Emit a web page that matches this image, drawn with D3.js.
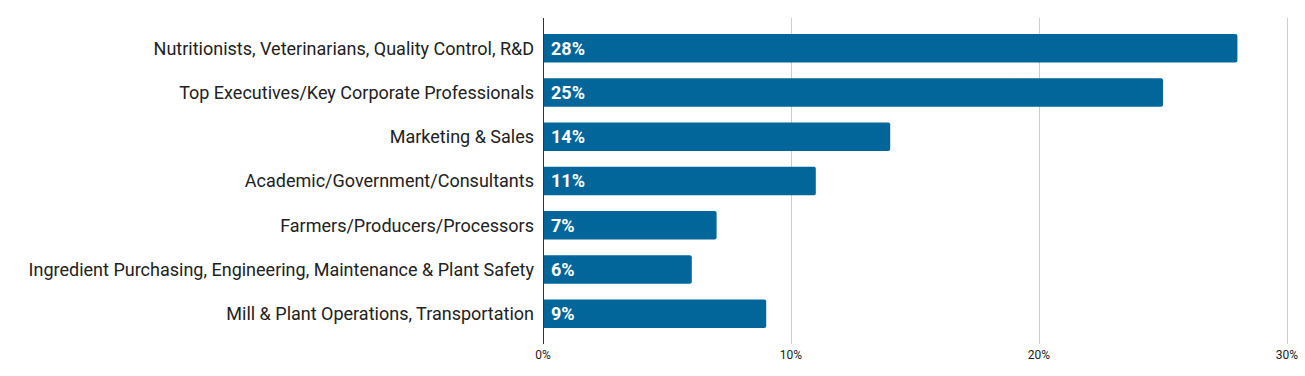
<!DOCTYPE html>
<html>
<head>
<meta charset="utf-8">
<script src="https://cdn.jsdelivr.net/npm/d3@7"></script>
<style>
	body { margin: 0; background: #fff; }
	svg { font-family: Roboto, sans-serif; display: block; }
	.cat-label { font-size: 18px; fill: #212121; }
	.val-label { font-size: 18px; font-weight: bold; fill: #fff; }
	.tick-label { font-size: 12px; fill: #212121; }
</style>
</head>
<body>
<svg id="chart" width="1305" height="376"></svg>
<script>
	// data
	const categories = [
		'Nutritionists, Veterinarians, Quality Control, R&D',
		'Top Executives/Key Corporate Professionals',
		'Marketing & Sales',
		'Academic/Government/Consultants',
		'Farmers/Producers/Processors',
		'Ingredient Purchasing, Engineering, Maintenance & Plant Safety',
		'Mill & Plant Operations, Transportation'
	];
	const values = [28, 25, 14, 11, 7, 6, 9];
	const tickValues = [0, 10, 20, 30];

	const svg = d3.select('#chart');

	let xScale = d3.scaleLinear()
		.domain([0, 30])
		.range([543, 1287]);

	let yScale = d3.scaleBand()
		.domain(categories)
		.range([18, 344])
		.paddingInner(0.354)
		.paddingOuter(0.36);

	// gridlines
	svg.append('g')
		.selectAll('line')
		.data(tickValues.filter(d => d > 0))
		.enter()
		.append('line')
		.attr('x1', d => Math.round(xScale(d)) + 0.5)
		.attr('x2', d => Math.round(xScale(d)) + 0.5)
		.attr('y1', 18)
		.attr('y2', 344)
		.attr('stroke', '#cccccc')
		.attr('stroke-width', 1);

	// bars (square on the left, slightly rounded on the right)
	svg.append('g')
		.selectAll('path')
		.data(values)
		.enter()
		.append('path')
		.attr('fill', '#02669a')
		.attr('d', (d, i) => {
			let x0 = xScale(0),
				x1 = xScale(d),
				y0 = yScale(categories[i]),
				h = yScale.bandwidth(),
				r = 2;
			return 'M' + x0 + ',' + y0 +
				'H' + (x1 - r) +
				'Q' + x1 + ',' + y0 + ' ' + x1 + ',' + (y0 + r) +
				'V' + (y0 + h - r) +
				'Q' + x1 + ',' + (y0 + h) + ' ' + (x1 - r) + ',' + (y0 + h) +
				'H' + x0 + 'Z';
		});

	// axis line
	svg.append('line')
		.attr('x1', xScale(0) + 0.5)
		.attr('x2', xScale(0) + 0.5)
		.attr('y1', 18)
		.attr('y2', 344)
		.attr('stroke', '#333')
		.attr('stroke-width', 1);

	// category labels
	svg.append('g')
		.selectAll('text')
		.data(categories)
		.enter()
		.append('text')
		.attr('class', 'cat-label')
		.attr('x', 534)
		.attr('y', d => yScale(d) + yScale.bandwidth() / 2)
		.attr('dy', '0.35em')
		.attr('text-anchor', 'end')
		.text(d => d);

	// value labels inside bars
	svg.append('g')
		.selectAll('text')
		.data(values)
		.enter()
		.append('text')
		.attr('class', 'val-label')
		.attr('x', xScale(0) + 8)
		.attr('y', (d, i) => yScale(categories[i]) + yScale.bandwidth() / 2)
		.attr('dy', '0.35em')
		.text(d => d + '%');

	// x tick labels
	svg.append('g')
		.selectAll('text')
		.data(tickValues)
		.enter()
		.append('text')
		.attr('class', 'tick-label')
		.attr('x', d => xScale(d))
		.attr('y', 355)
		.attr('dy', '0.35em')
		.attr('text-anchor', 'middle')
		.text(d => d + '%');
</script>
</body>
</html>
